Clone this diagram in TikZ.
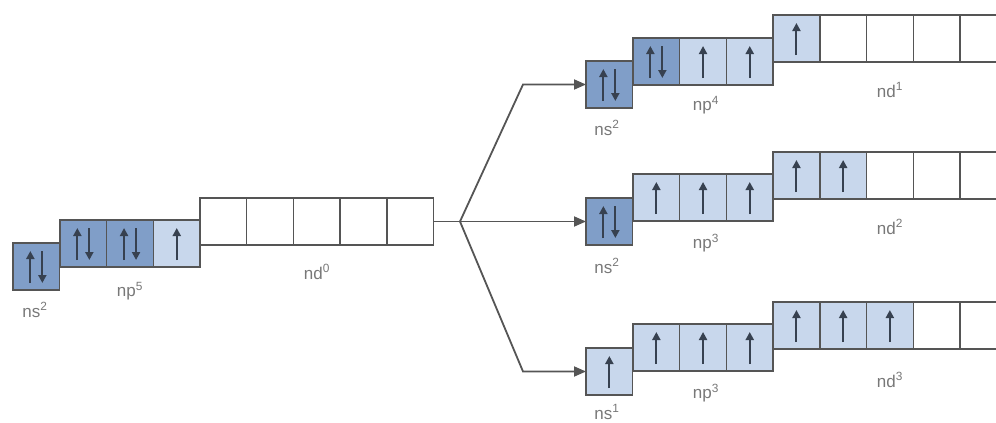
\documentclass[tikz,border=0pt]{standalone}
\usepackage{fontspec}
\setmainfont{Liberation Sans}
\usetikzlibrary{arrows.meta}
\definecolor{dk}{RGB}{128,158,200}
\definecolor{lt}{RGB}{200,215,236}
\definecolor{ln}{RGB}{85,85,85}
\definecolor{ar}{RGB}{55,65,80}
\definecolor{lab}{RGB}{120,120,120}
\tikzset{
 orb/.style={draw=ln, line width=1.4pt, minimum width=46.7pt, minimum height=47pt, inner sep=0pt, outer sep=0pt},
 dkf/.style={fill=dk}, ltf/.style={fill=lt}, emf/.style={fill=white},
 el/.style={draw=ar, line width=2pt, -{Triangle[length=8pt,width=8pt]}},
 conn/.style={draw=ln, line width=1.8pt},
 tip/.style={-{Triangle[length=12pt,width=10pt]}},
 lbl/.style={text=lab, font=\fontsize{17}{20}\selectfont, inner sep=0pt},
}
\newcommand{\orb}[5]{%
 \node[orb,#4,anchor=north west] (#1) at (#2,#3) {};
 \ifcase#5\relax\or
   \draw[el] ([yshift=7pt]#1.south) -- ([yshift=-8pt]#1.north);
 \or
   \draw[el] ([xshift=-6pt,yshift=7pt]#1.south) -- ([xshift=-6pt,yshift=-8pt]#1.north);
   \draw[el] ([xshift=6pt,yshift=-8pt]#1.north) -- ([xshift=6pt,yshift=7pt]#1.south);
 \fi}
\begin{document}
\begin{tikzpicture}[x=1pt,y=-1pt]
\useasboundingbox (0,0) rectangle (996,423);
\clip (0,0) rectangle (996,423);
% left
\orb{Ls}{13}{243}{dkf}{2}
\orb{Lp1}{60}{220}{dkf}{2}
\orb{Lp2}{106.7}{220}{dkf}{2}
\orb{Lp3}{153.4}{220}{ltf}{1}
\orb{Ld1}{200}{198}{emf}{0}
\orb{Ld2}{246.7}{198}{emf}{0}
\orb{Ld3}{293.4}{198}{emf}{0}
\orb{Ld4}{340.1}{198}{emf}{0}
\orb{Ld5}{386.8}{198}{emf}{0}
\node[lbl] (Lsl) at (35,310) {ns\textsuperscript{2}};
\node[lbl] (Lpl) at (130,291) {np\textsuperscript{5}};
\node[lbl] (Ldl) at (317,272) {nd\textsuperscript{0}};
% top
\orb{Ts}{586}{61}{dkf}{2}
\orb{Tp1}{633}{38}{dkf}{2}
\orb{Tp2}{679.7}{38}{ltf}{1}
\orb{Tp3}{726.4}{38}{ltf}{1}
\orb{Td1}{773.1}{15}{ltf}{1}
\orb{Td2}{819.8}{15}{emf}{0}
\orb{Td3}{866.5}{15}{emf}{0}
\orb{Td4}{913.2}{15}{emf}{0}
\orb{Td5}{959.9}{15}{emf}{0}
\node[lbl] (Tsl) at (607,128) {ns\textsuperscript{2}};
\node[lbl] (Tpl) at (706,105) {np\textsuperscript{4}};
\node[lbl] (Tdl) at (890,90) {nd\textsuperscript{1}};
% middle
\orb{Ms}{586}{198}{dkf}{2}
\orb{Mp1}{633}{174}{ltf}{1}
\orb{Mp2}{679.7}{174}{ltf}{1}
\orb{Mp3}{726.4}{174}{ltf}{1}
\orb{Md1}{773.1}{152}{ltf}{1}
\orb{Md2}{819.8}{152}{ltf}{1}
\orb{Md3}{866.5}{152}{emf}{0}
\orb{Md4}{913.2}{152}{emf}{0}
\orb{Md5}{959.9}{152}{emf}{0}
\node[lbl] (Msl) at (607,266) {ns\textsuperscript{2}};
\node[lbl] (Mpl) at (706,243) {np\textsuperscript{3}};
\node[lbl] (Mdl) at (890,227) {nd\textsuperscript{2}};
% bottom
\orb{Bs}{586}{348}{ltf}{1}
\orb{Bp1}{633}{324}{ltf}{1}
\orb{Bp2}{679.7}{324}{ltf}{1}
\orb{Bp3}{726.4}{324}{ltf}{1}
\orb{Bd1}{773.1}{302}{ltf}{1}
\orb{Bd2}{819.8}{302}{ltf}{1}
\orb{Bd3}{866.5}{302}{ltf}{1}
\orb{Bd4}{913.2}{302}{emf}{0}
\orb{Bd5}{959.9}{302}{emf}{0}
\node[lbl] (Bsl) at (607,412) {ns\textsuperscript{1}};
\node[lbl] (Bpl) at (706,393) {np\textsuperscript{3}};
\node[lbl] (Bdl) at (890,380) {nd\textsuperscript{3}};
% connectors
\coordinate (br) at (460,221.5);
\coordinate (k) at (523,0);
\draw[conn] (Ld5.east) -- (br);
\draw[conn,tip] (br) -- (k |- Ts.west) -- (Ts.west);
\draw[conn,tip] (br) -- (Ms.west);
\draw[conn,tip] (br) -- (k |- Bs.west) -- (Bs.west);
\end{tikzpicture}
\end{document}
